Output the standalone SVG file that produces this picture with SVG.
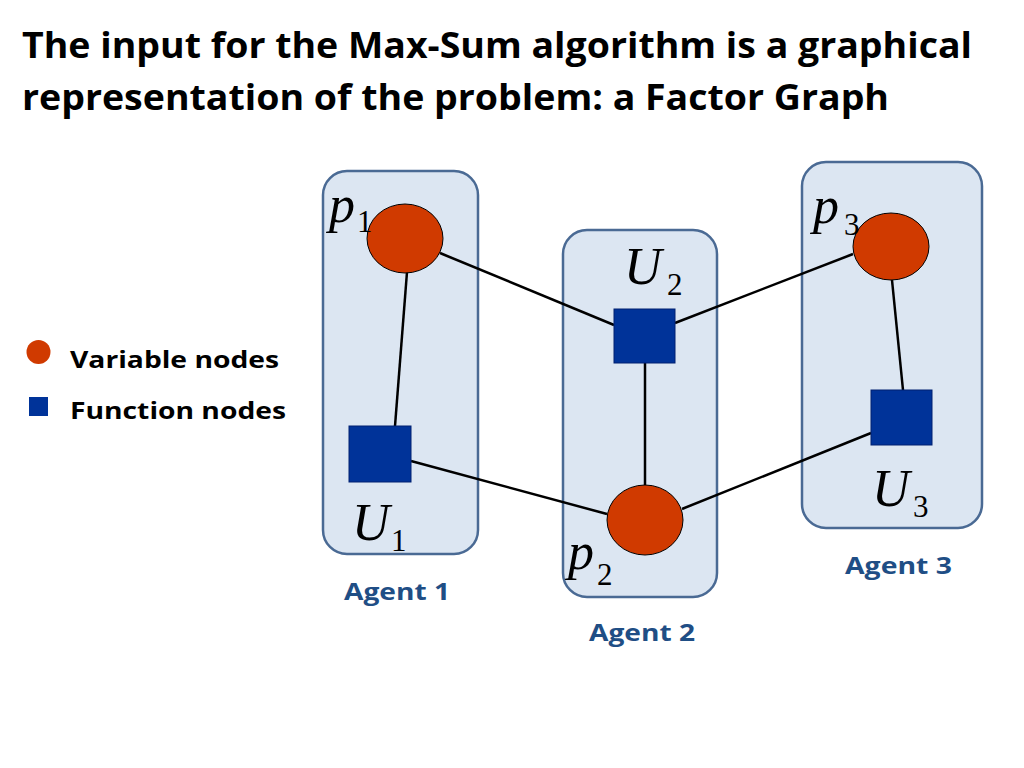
<svg xmlns="http://www.w3.org/2000/svg" width="1024" height="768" viewBox="0 0 1024 768">
<style>
.title{font-family:"Open Sans","Liberation Sans",sans-serif;font-weight:bold;font-size:36px;fill:#000}
.legend{font-family:"Open Sans","Liberation Sans",sans-serif;font-weight:bold;font-size:24px;fill:#000}
.agent{font-family:"Open Sans","Liberation Sans",sans-serif;font-weight:bold;font-size:24px;fill:#1f4e85}
.box{fill:#dce6f2;stroke:#4a6a94;stroke-width:2.5}
.var{fill:#d03a00;stroke:#000;stroke-width:1}
.fun{fill:#003399;stroke:#002070;stroke-width:1}
.edge{stroke:#000;stroke-width:2.5;fill:none}
.mv{font-family:"Liberation Serif","Times New Roman",serif;font-style:italic;font-size:52px;fill:#000}
.sub{font-family:"Liberation Serif","Times New Roman",serif;font-size:31px;fill:#000}
</style>
<rect width="1024" height="768" fill="#fff"/>
<text class="title" x="22" y="58" textLength="950" lengthAdjust="spacingAndGlyphs">The input for the Max-Sum algorithm is a graphical</text>
<text class="title" x="22" y="110" textLength="867" lengthAdjust="spacingAndGlyphs">representation of the problem: a Factor Graph</text>
<g id="legend">
<ellipse cx="38.5" cy="352" rx="12" ry="12" fill="#d03a00"/>
<rect x="29" y="397" width="19" height="19" fill="#003399"/>
<text class="legend" x="70" y="368" textLength="209" lengthAdjust="spacingAndGlyphs">Variable nodes</text>
<text class="legend" x="70" y="419" textLength="216" lengthAdjust="spacingAndGlyphs">Function nodes</text>
</g>
<g id="agent1">
<rect class="box" x="323" y="171" width="155" height="383" rx="24"/>
<text class="agent" x="344" y="600" textLength="106" lengthAdjust="spacingAndGlyphs">Agent 1</text>
</g>
<g id="agent2">
<rect class="box" x="563" y="230" width="154" height="367" rx="24"/>
<text class="agent" x="589" y="641" textLength="106" lengthAdjust="spacingAndGlyphs">Agent 2</text>
</g>
<g id="agent3">
<rect class="box" x="802" y="162" width="180" height="366" rx="24"/>
<text class="agent" x="845" y="574" textLength="107" lengthAdjust="spacingAndGlyphs">Agent 3</text>
</g>
<g id="connectors">
<line class="edge" x1="407" y1="272" x2="395" y2="426"/>
<line class="edge" x1="440" y1="253" x2="614" y2="325"/>
<line class="edge" x1="675" y1="323" x2="853" y2="254"/>
<line class="edge" x1="645" y1="363" x2="645" y2="485"/>
<line class="edge" x1="411" y1="461" x2="607" y2="514"/>
<line class="edge" x1="682" y1="509" x2="871" y2="433"/>
<line class="edge" x1="892" y1="280" x2="903" y2="390"/>
</g>
<g id="p1">
<ellipse class="var" cx="405" cy="238.5" rx="38" ry="34.5"/>
<text class="mv" x="329" y="222">p</text><text class="sub" x="357" y="232">1</text>
</g>
<g id="p2">
<ellipse class="var" cx="645" cy="520" rx="38" ry="35"/>
<text class="mv" x="568" y="569">p</text><text class="sub" x="597" y="585">2</text>
</g>
<g id="p3">
<ellipse class="var" cx="891" cy="246.5" rx="38" ry="33.5"/>
<text class="mv" x="813" y="223">p</text><text class="sub" x="844" y="235">3</text>
</g>
<g id="U1">
<rect class="fun" x="349" y="426" width="62" height="56"/>
<text class="mv" x="352" y="540">U</text><text class="sub" x="391" y="551">1</text>
</g>
<g id="U2">
<rect class="fun" x="614" y="309" width="61" height="54"/>
<text class="mv" x="624" y="284">U</text><text class="sub" x="667" y="295">2</text>
</g>
<g id="U3">
<rect class="fun" x="871" y="390" width="61" height="55"/>
<text class="mv" x="872" y="506">U</text><text class="sub" x="913" y="517">3</text>
</g>
</svg>
